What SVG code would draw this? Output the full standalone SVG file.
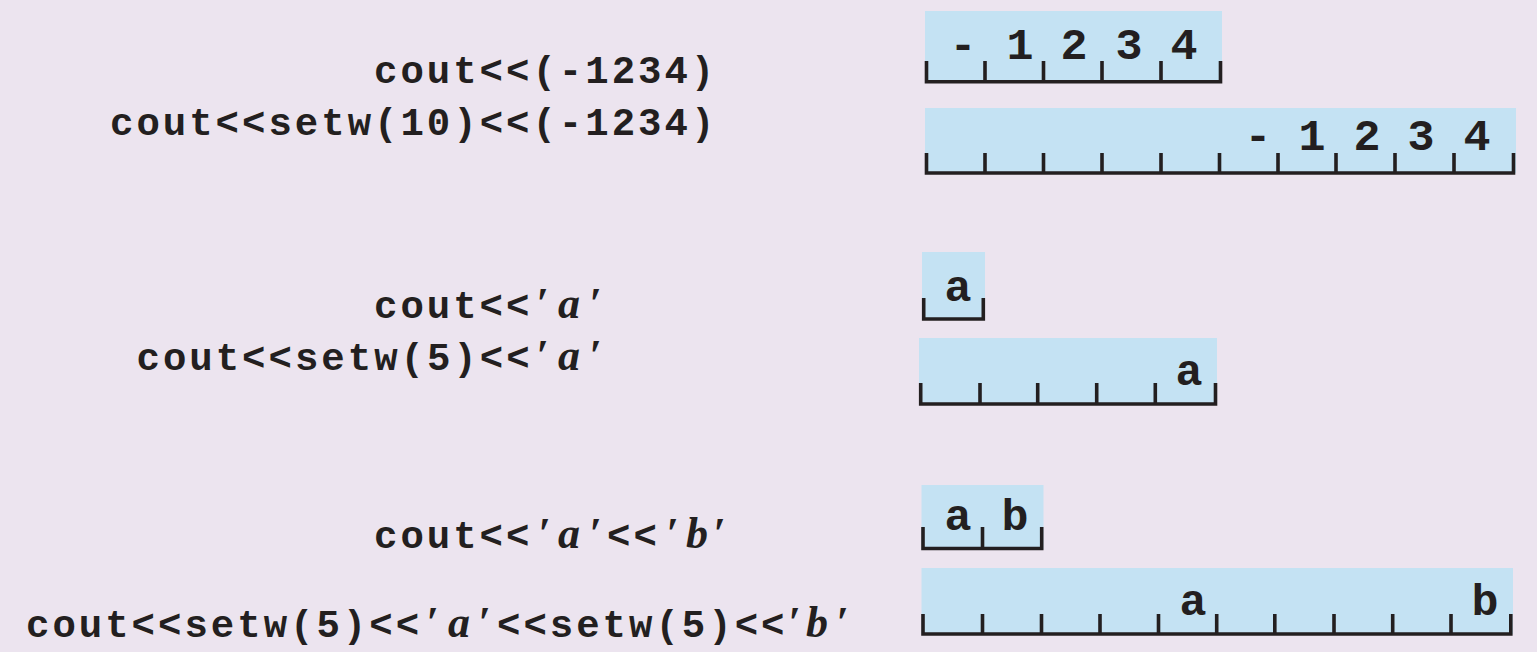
<svg xmlns="http://www.w3.org/2000/svg" width="1537" height="652" viewBox="0 0 1537 652">
<style>
.bg{fill:#ece4ef}
.code{font-family:"Liberation Mono","Courier New",monospace;font-weight:bold;font-size:39px;letter-spacing:3px;fill:#231f20}
.q{font-family:"Liberation Serif","Times New Roman",serif;font-style:italic;font-weight:bold;font-size:44px;letter-spacing:0;fill:#231f20}
.cell{font-family:"Liberation Mono","Courier New",monospace;font-weight:bold;font-size:45px;fill:#231f20;text-anchor:middle}
.box{fill:#c4e2f3}
.rule{fill:none;stroke:#231f20;stroke-width:3.6;stroke-linejoin:miter}
</style>
<rect class="bg" x="0" y="0" width="1537" height="652"/>

<g id="code1"><text class="code" x="374" y="83">cout&lt;&lt;(-1234)</text></g>
<g id="code2"><text class="code" x="110" y="135">cout&lt;&lt;setw(10)&lt;&lt;(-1234)</text></g>
<g id="code3"><text class="code" y="318"><tspan x="374">cout&lt;&lt;</tspan><tspan class="q" x="536">′</tspan><tspan class="q" x="558">a</tspan><tspan class="q" x="589">′</tspan></text></g>
<g id="code4"><text class="code" y="370"><tspan x="136.5">cout&lt;&lt;setw(5)&lt;&lt;</tspan><tspan class="q" x="536">′</tspan><tspan class="q" x="558">a</tspan><tspan class="q" x="589">′</tspan></text></g>
<g id="code5"><text class="code" y="548"><tspan x="374">cout&lt;&lt;</tspan><tspan class="q" x="538">′</tspan><tspan class="q" x="558">a</tspan><tspan class="q" x="589">′</tspan><tspan x="607">&lt;&lt;</tspan><tspan class="q" x="666">′</tspan><tspan class="q" x="686">b</tspan><tspan class="q" x="713">′</tspan></text></g>
<g id="code6"><text class="code" y="637"><tspan x="26">cout&lt;&lt;setw(5)&lt;&lt;</tspan><tspan class="q" x="426">′</tspan><tspan class="q" x="448">a</tspan><tspan class="q" x="478">′</tspan><tspan x="497">&lt;&lt;setw(5)&lt;&lt;</tspan><tspan class="q" x="788">′</tspan><tspan class="q" x="806">b</tspan><tspan class="q" x="836">′</tspan></text></g>

<g id="box1">
<rect class="box" x="925" y="11" width="297" height="71"/>
<path class="rule" d="M926.5 61V81.7H1220.5V61M985 61V81.7M1043.5 61V81.7M1102 61V81.7M1161 61V81.7"/>
<text class="cell" y="59"><tspan x="963">-</tspan><tspan x="1020">1</tspan><tspan x="1074">2</tspan><tspan x="1129">3</tspan><tspan x="1184">4</tspan></text>
</g>
<g id="box2">
<rect class="box" x="925" y="108" width="591" height="65"/>
<path class="rule" d="M926.5 153V173H1513.5V153M985 153V173M1043.5 153V173M1102 153V173M1161 153V173M1219.5 153V173M1278 153V173M1336 153V173M1395 153V173M1454 153V173"/>
<text class="cell" y="150"><tspan x="1258">-</tspan><tspan x="1312">1</tspan><tspan x="1367">2</tspan><tspan x="1421">3</tspan><tspan x="1477">4</tspan></text>
</g>
<g id="box3">
<rect class="box" x="922" y="252" width="63" height="67"/>
<path class="rule" d="M923.7 298V319H983.3V298"/>
<text class="cell" x="958" y="301">a</text>
</g>
<g id="box4">
<rect class="box" x="919" y="338" width="298" height="66"/>
<path class="rule" d="M920.7 383V404H1215.5V383M980 383V404M1037.7 383V404M1096.7 383V404M1155.3 383V404"/>
<text class="cell" x="1189" y="385">a</text>
</g>
<g id="box5">
<rect class="box" x="921.5" y="485" width="122" height="64"/>
<path class="rule" d="M923 527V548.5H1041.7V527M982.5 527V548.5"/>
<text class="cell" y="530"><tspan x="958">a</tspan><tspan x="1015">b</tspan></text>
</g>
<g id="box6">
<rect class="box" x="921.5" y="568" width="591.5" height="66"/>
<path class="rule" d="M923 614V634H1510.8V614M982.5 614V634M1041.5 614V634M1100 614V634M1158.5 614V634M1216.7 614V634M1274.8 614V634M1334 614V634M1392.7 614V634M1451 614V634"/>
<text class="cell" y="615"><tspan x="1193">a</tspan><tspan x="1485">b</tspan></text>
</g>
</svg>
